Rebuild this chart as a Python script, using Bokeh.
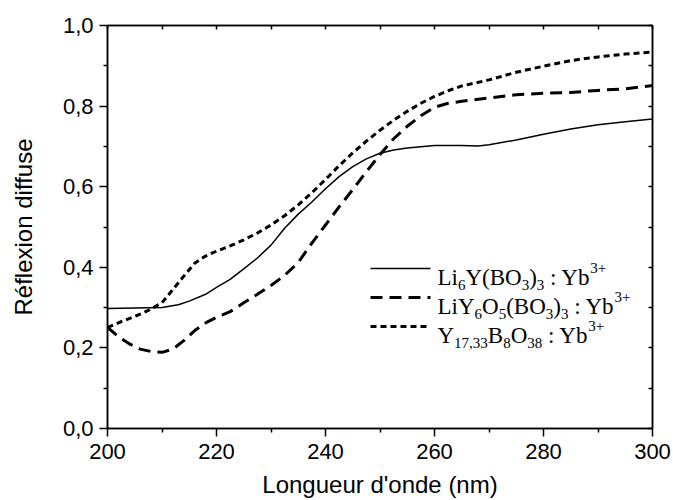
from bokeh.plotting import figure
from bokeh.models import Range1d, LinearAxis, FixedTicker, Label
from bokeh.embed import file_html
from bokeh.resources import INLINE

# ---------------- data ----------------
wl_li6 = [200, 205, 210, 213, 215, 218, 220, 222.5, 225, 227.5, 230, 232.5, 235,
          237.5, 240, 242.5, 245, 247.5, 250, 252.5, 255, 260, 265, 268, 270,
          275, 280, 285, 290, 295, 300]
refl_li6 = [0.298, 0.299, 0.300, 0.307, 0.316, 0.333, 0.350, 0.370, 0.396, 0.423,
            0.455, 0.497, 0.532, 0.562, 0.595, 0.625, 0.650, 0.669, 0.683, 0.691,
            0.696, 0.702, 0.702, 0.701, 0.704, 0.716, 0.730, 0.743, 0.754, 0.761,
            0.768]

wl_liy6 = [200, 202, 204, 206, 208, 210, 212, 214, 216, 218, 220, 222.5, 225,
           227.5, 230, 232.5, 235, 237.5, 240, 242.5, 245, 247.5, 250, 252.5,
           255, 257.5, 260, 262.5, 265, 270, 275, 280, 285, 290, 295, 300]
refl_liy6 = [0.251, 0.228, 0.210, 0.197, 0.191, 0.189, 0.197, 0.218, 0.243, 0.262,
             0.276, 0.290, 0.312, 0.333, 0.355, 0.380, 0.412, 0.460, 0.505, 0.550,
             0.593, 0.637, 0.680, 0.719, 0.750, 0.776, 0.797, 0.807, 0.812, 0.820,
             0.828, 0.832, 0.834, 0.839, 0.843, 0.851]

wl_y17 = [200, 202.5, 205, 207.5, 210, 212, 214, 216, 218, 220, 222.5, 225, 227.5,
          230, 232.5, 235, 237.5, 240, 242.5, 245, 247.5, 250, 252.5, 255, 257.5,
          260, 262.5, 265, 270, 275, 280, 285, 290, 295, 300]
refl_y17 = [0.251, 0.265, 0.278, 0.293, 0.312, 0.345, 0.378, 0.410, 0.428, 0.440,
            0.453, 0.468, 0.485, 0.505, 0.528, 0.555, 0.585, 0.618, 0.652, 0.684,
            0.713, 0.740, 0.765, 0.787, 0.807, 0.824, 0.838, 0.850, 0.865, 0.884,
            0.899, 0.913, 0.922, 0.929, 0.934]

x_ticks = [200, 220, 240, 260, 280, 300]
x_minor = [210, 230, 250, 270, 290]
y_ticks = [0.0, 0.2, 0.4, 0.6, 0.8, 1.0]
y_tick_labels = ["0,0", "0,2", "0,4", "0,6", "0,8", "1,0"]
y_minor = [0.1, 0.3, 0.5, 0.7, 0.9]
top_ticks = [200, 210, 220, 230, 240, 250, 260, 270, 280, 290, 300]
right_ticks = [0.0, 0.1, 0.2, 0.3, 0.4, 0.5, 0.6, 0.7, 0.8, 0.9, 1.0]
x_title = "Longueur d'onde (nm)"
y_title = "Réflexion diffuse"

# legend labels: (text, kind) with kind m = main, s = subscript, p = superscript
legend_li6 = [("Li", "m"), ("6", "s"), ("Y(BO", "m"), ("3", "s"), (")", "m"),
              ("3", "s"), (" : Yb", "m"), ("3+", "p")]
legend_liy6 = [("LiY", "m"), ("6", "s"), ("O", "m"), ("5", "s"), ("(BO", "m"),
               ("3", "s"), (")", "m"), ("3", "s"), (" : Yb", "m"), ("3+", "p")]
legend_y17 = [("Y", "m"), ("17,33", "s"), ("B", "m"), ("8", "s"), ("O", "m"),
              ("38", "s"), (" : Yb", "m"), ("3+", "p")]

# ---------------- figure ----------------
p = figure(width=673, height=500, output_backend="svg", toolbar_location=None,
           x_range=Range1d(200, 300), y_range=Range1d(0, 1.0),
           min_border_left=107, min_border_right=21, min_border_top=25,
           min_border_bottom=72)
p.background_fill_color = "white"
p.border_fill_color = "white"
p.grid.visible = False
p.outline_line_color = "black"
p.outline_line_width = 1.5
p.outline_line_alpha = 1.0

SANS = "Liberation Sans"
SERIF = "Liberation Serif"

xa = p.xaxis[0]
xa.ticker = FixedTicker(ticks=x_ticks, minor_ticks=x_minor)
ya = p.yaxis[0]
ya.ticker = FixedTicker(ticks=y_ticks, minor_ticks=y_minor)
ya.major_label_overrides = dict(zip(y_ticks, y_tick_labels))
xa.axis_label = x_title
ya.axis_label = y_title
for ax in (xa, ya):
    ax.axis_line_color = "black"
    ax.axis_line_width = 1.5
    ax.major_tick_line_color = "black"
    ax.major_tick_line_width = 1.5
    ax.minor_tick_line_color = "black"
    ax.minor_tick_line_width = 1.5
    ax.major_tick_in = 0
    ax.major_tick_out = 8
    ax.minor_tick_in = 0
    ax.minor_tick_out = 4
    ax.major_label_text_font = SANS
    ax.major_label_text_font_size = "22px"
    ax.major_label_text_color = "black"
    ax.axis_label_text_font = SANS
    ax.axis_label_text_font_size = "24px"
    ax.axis_label_text_font_style = "normal"
    ax.axis_label_text_color = "black"
xa.major_label_text_line_height = 0.8
xa.axis_label_text_line_height = 0.8
xa.major_label_standoff = 7
xa.axis_label_standoff = 9
ya.major_label_standoff = 6
ya.axis_label_standoff = 23

# mirror axes on top and right: inward ticks only, no labels drawn
for loc, ticks in (("above", top_ticks), ("right", right_ticks)):
    ax = LinearAxis(ticker=FixedTicker(ticks=ticks))
    ax.axis_line_color = "black"
    ax.axis_line_width = 1.5
    ax.major_tick_line_color = "black"
    ax.major_tick_line_width = 1.5
    ax.major_tick_in = 4
    ax.major_tick_out = 0
    ax.minor_tick_in = 0
    ax.minor_tick_out = 0
    ax.minor_tick_line_color = None
    ax.major_label_text_color = None
    ax.major_label_text_font_size = "1px"
    ax.major_label_standoff = 0
    p.add_layout(ax, loc)

solid = dict(line_color="black", line_width=1.5)
dashed = dict(line_color="black", line_width=3, line_dash="12 7")
dotted = dict(line_color="black", line_width=3, line_dash="6 4")

p.line(wl_li6, refl_li6, **solid)
p.line(wl_liy6, refl_liy6, **dashed)
p.line(wl_y17, refl_y17, **dotted)

# ---------------- hand-built legend ----------------
def px2x(px):
    return 200 + (px - 107) / 5.45

def py2y(py):
    return (428 - py) / 403.0

WIDTHS = {"L": 611, "i": 278, "Y": 722, "(": 333, ")": 333, "B": 667, "O": 722,
          " ": 250, ":": 278, "b": 500, "+": 564, ",": 250}
for d in "0123456789":
    WIDTHS[d] = 500

MAIN, SMALL = 23, 15

def tw(s, size):
    return sum(WIDTHS.get(c, 500) for c in s) * size / 1000.0

rows = [(legend_li6, solid, 268), (legend_liy6, dashed, 297), (legend_y17, dotted, 326)]
for pieces, style, ly in rows:
    p.segment(x0=[px2x(370)], y0=[py2y(ly)], x1=[px2x(430)], y1=[py2y(ly)], **style)
    base_y = py2y(ly + 9)
    off = 0.0
    for txt, kind in pieces:
        size = MAIN if kind == "m" else SMALL
        yoff = {"m": 0, "s": -7, "p": 10}[kind]
        lead = len(txt) - len(txt.lstrip(" "))
        off += lead * 250 * size / 1000.0
        core = txt.strip(" ")
        p.add_layout(Label(x=px2x(437), y=base_y, x_offset=off, y_offset=yoff,
                           text=core, text_font=SERIF, text_font_size=f"{size}px",
                           text_color="black", text_align="left",
                           text_baseline="alphabetic"))
        off += tw(core, size)
        trail = len(txt.lstrip(" ")) - len(core)
        off += trail * 250 * size / 1000.0

open("out.html", "w").write(file_html(p, INLINE))
